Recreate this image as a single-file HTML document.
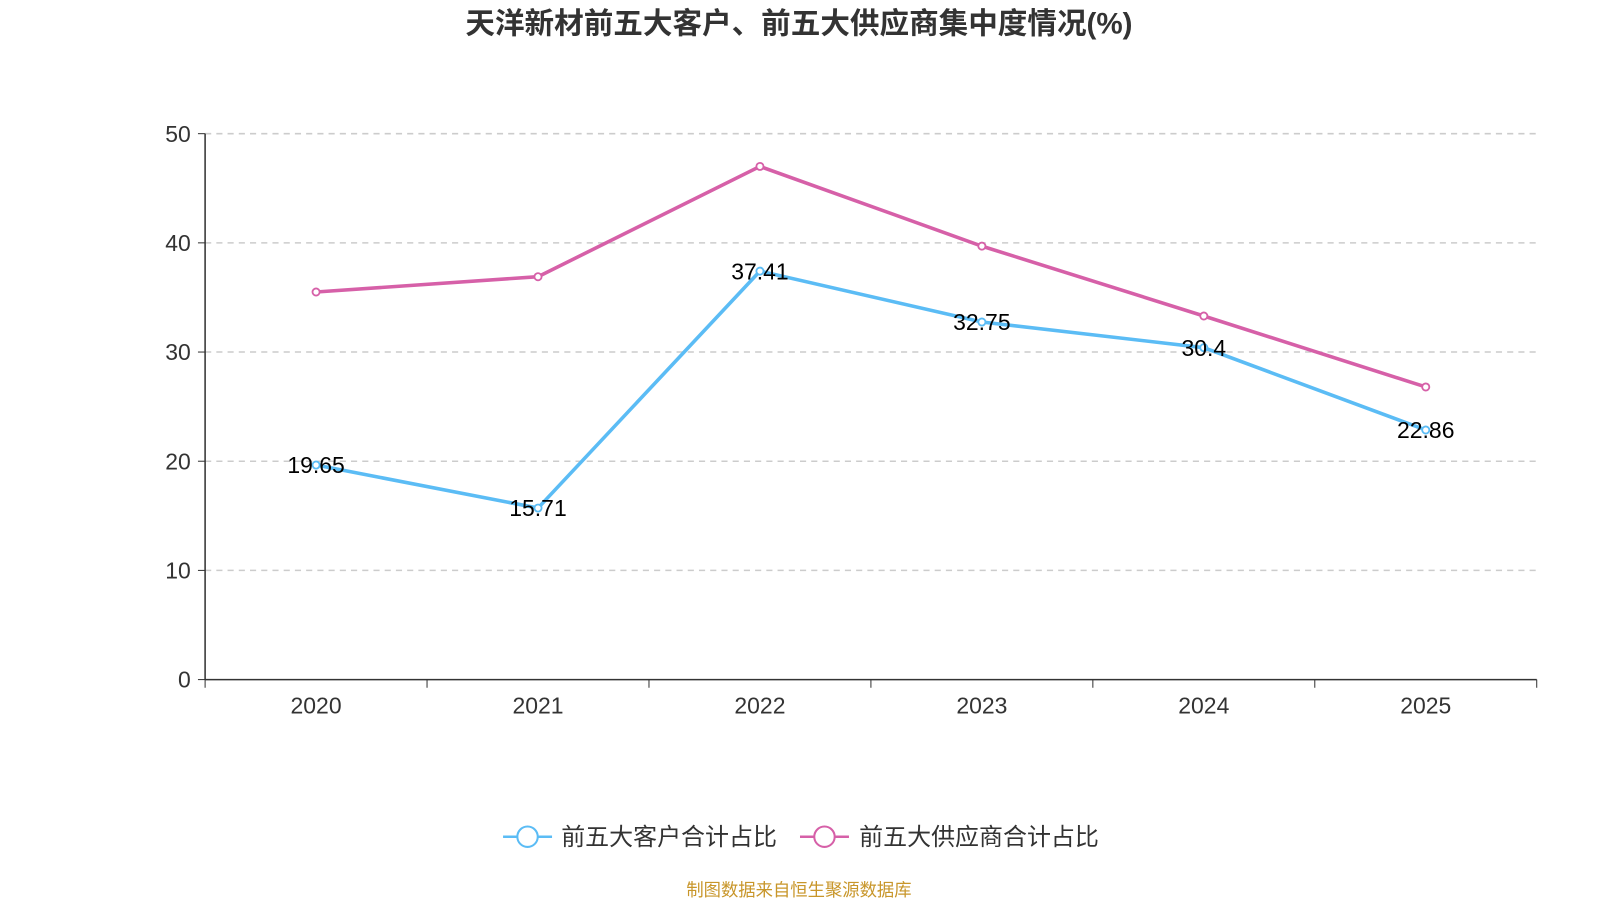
<!DOCTYPE html>
<html><head><meta charset="utf-8"><style>
body{margin:0;background:#fff;width:1600px;height:900px;overflow:hidden;font-family:"Liberation Sans","Noto Sans CJK SC",sans-serif}
</style></head><body>
<svg id="chart" width="1600" height="900" xmlns="http://www.w3.org/2000/svg">
<g transform="scale(1.0204)">
<text x="783" y="33" text-anchor="middle" font-size="29" font-weight="bold" fill="#333" font-family="Liberation Sans,Noto Sans CJK SC,sans-serif">天洋新材前五大客户、前五大供应商集中度情况(%)</text>
<g id="grid"></g><g id="axes"></g><g id="series"></g>
<g>
<g>
<line x1="493" y1="820" x2="541" y2="820" stroke="#5bbcf5" stroke-width="2.5"/><circle cx="517" cy="820" r="10" fill="#fff" stroke="#5bbcf5" stroke-width="2"/>
<text x="550" y="828" font-size="23.5" fill="#333">前五大客户合计占比</text></g>
<g>
<line x1="784" y1="820" x2="832" y2="820" stroke="#d660a8" stroke-width="2.5"/><circle cx="808" cy="820" r="10" fill="#fff" stroke="#d660a8" stroke-width="2"/>
<text x="842" y="828" font-size="23.5" fill="#333">前五大供应商合计占比</text></g>
</g>
<text x="783" y="878" text-anchor="middle" font-size="17" fill="#c8962a">制图数据来自恒生聚源数据库</text>
</g>
</svg>
<script>
const categories=["2020","2021","2022","2023","2024","2025"];
const customers=[19.65,15.71,37.41,32.75,30.4,22.86];
const suppliers=[35.5,36.9,47.0,39.7,33.3,26.8];
const yTicks=[0,10,20,30,40,50];
const NS="http://www.w3.org/2000/svg";
const L=201,R=1506,T=131,B=666,yMax=50;
const band=(R-L)/categories.length;
const x=i=>L+band*(i+0.5);
const y=v=>B-(v/yMax)*(B-T);
function mk(tag,attrs,parent,txt){const e=document.createElementNS(NS,tag);for(const k in attrs)e.setAttribute(k,attrs[k]);if(txt!==undefined)e.textContent=txt;document.getElementById(parent).appendChild(e);return e;}
yTicks.forEach(t=>{
 if(t>0){const g=mk('line',{x1:L,x2:R,y1:y(t),y2:y(t),stroke:'#ccc','stroke-dasharray':'6,5','stroke-width':1.5},'grid');
 
 }
 const tk=mk('line',{x1:L-7,x2:L,y1:y(t),y2:y(t),stroke:'#333'},'axes');
 
 
 const lb=mk('text',{x:L-14,y:y(t)+8,'text-anchor':'end','font-size':22.5,fill:'#333'},'axes',t);
 
 
});
const ya=mk('line',{x1:L,x2:L,y1:T,y2:B,stroke:'#333','stroke-width':1.5},'axes');


const xa=mk('line',{x1:L,x2:R,y1:B,y2:B,stroke:'#333','stroke-width':1.5},'axes');


for(let i=0;i<=categories.length;i++){const tk=mk('line',{x1:L+band*i,x2:L+band*i,y1:B,y2:B+8,stroke:'#333'},'axes');
 
 }
categories.forEach((c,i)=>{const t=mk('text',{x:x(i),y:B+33,'text-anchor':'middle','font-size':22.5,fill:'#333'},'axes',c);
 
 });
function series(vals,color,name,labels){
 const p=mk('polyline',{points:vals.map((v,i)=>x(i)+','+y(v)).join(' '),fill:'none',stroke:color,'stroke-width':3.5},'series');
 
 
 vals.forEach((v,i)=>{const c=mk('circle',{cx:x(i),cy:y(v),r:3.5,fill:'#fff',stroke:color,'stroke-width':1.8},'series');
  
  
  if(labels){const t=mk('text',{x:x(i),y:y(v)+8,'text-anchor':'middle','font-size':22.5,fill:'#000'},'series',v);
  
  }});
}
series(suppliers,'#d660a8','suppliers',false);
series(customers,'#5bbcf5','customers',true);
</script>
</body></html>
